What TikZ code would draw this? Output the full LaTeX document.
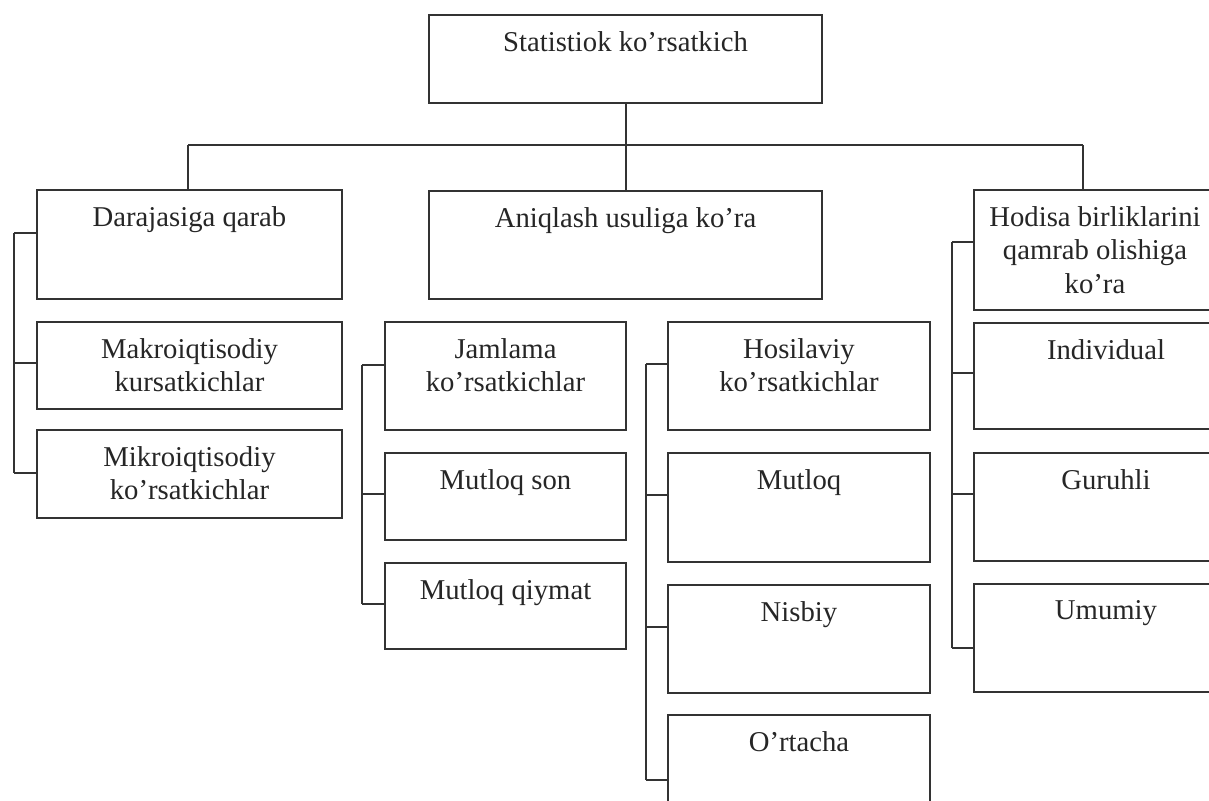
\documentclass[tikz,border=0pt]{standalone}
\usepackage{fontspec}
\setmainfont{Liberation Serif}

\tikzset{
  line/.style={line width=2pt, draw=black!80},
  box/.style 2 args={draw=black!80, line width=2pt, anchor=north west,
    minimum width=#1, minimum height=#2, inner sep=0pt},
  txt/.style={anchor=north, align=center, inner sep=0pt, yshift=-17pt,
    text=black!85, font=\fontsize{28.7}{33.5}\selectfont},
}

\begin{document}
\begin{tikzpicture}[x=1pt,y=-1pt]
        \clip (0,0) rectangle (1209,800);
        \fill[white] (0,0) rectangle (1209,800);
        % top level
        \node[box={393}{88}, label={[txt]north:Statistiok ko’rsatkich}] (top) at (428,14) {};
        \node[box={305}{109}, label={[txt]north:Darajasiga qarab}] (dar) at (36,189) {};
        \node[box={393}{108}, label={[txt]north:Aniqlash usuliga ko’ra}] (aniq) at (428,190) {};
        \node[box={264}{120}, label={[txt,xshift=-11pt]north:{Hodisa birliklarini\\qamrab olishiga\\ko’ra}}] (hod) at (973,189) {};
        % left column
        \node[box={305}{87}, label={[txt]north:{Makroiqtisodiy\\kursatkichlar}}] (mak) at (36,321) {};
        \node[box={305}{88}, label={[txt]north:{Mikroiqtisodiy\\ko’rsatkichlar}}] (mik) at (36,429) {};
        % middle columns
        \node[box={241}{108}, label={[txt]north:{Jamlama\\ko’rsatkichlar}}] (jam) at (384,321) {};
        \node[box={241}{87}, label={[txt]north:Mutloq son}] (son) at (384,452) {};
        \node[box={241}{86}, label={[txt]north:Mutloq qiymat}] (qiy) at (384,562) {};
        \node[box={262}{108}, label={[txt]north:{Hosilaviy\\ko’rsatkichlar}}] (hos) at (667,321) {};
        \node[box={262}{109}, label={[txt]north:Mutloq}] (mut) at (667,452) {};
        \node[box={262}{108}, label={[txt]north:Nisbiy}] (nis) at (667,584) {};
        \node[box={262}{108}, label={[txt]north:O’rtacha}] (ort) at (667,714) {};
        % right column
        \node[box={264}{106}, label={[txt]north:Individual}] (ind) at (973,322) {};
        \node[box={264}{108}, label={[txt]north:Guruhli}] (gur) at (973,452) {};
        \node[box={264}{108}, label={[txt]north:Umumiy}] (umu) at (973,583) {};

        % bus under the top box
        \coordinate (busL) at (188,145);
        \coordinate (busR) at (1083,145);
        \draw[line] (top.south) -- (aniq.north);
        \draw[line] (busL) -- (busR);
        \draw[line] (busL) -- (busL |- dar.north);
        \draw[line] (busR) -- (busR |- hod.north);

        % routine for brackets
        \draw[line] (14,233) -- (14,473);
        \foreach \n/\y in {dar/233, mak/363, mik/473}
          \draw[line] (14,\y) -- (\n.west |- 14,\y);
        \draw[line] (362,365) -- (362,604);
        \foreach \n/\y in {jam/365, son/494, qiy/604}
          \draw[line] (362,\y) -- (\n.west |- 362,\y);
        \draw[line] (646,364) -- (646,780);
        \foreach \n/\y in {hos/364, mut/495, nis/627, ort/780}
          \draw[line] (646,\y) -- (\n.west |- 646,\y);
        \draw[line] (952,242) -- (952,648);
        \foreach \n/\y in {hod/242, ind/373, gur/494, umu/648}
          \draw[line] (952,\y) -- (\n.west |- 952,\y);
      \end{tikzpicture}
\end{document}
